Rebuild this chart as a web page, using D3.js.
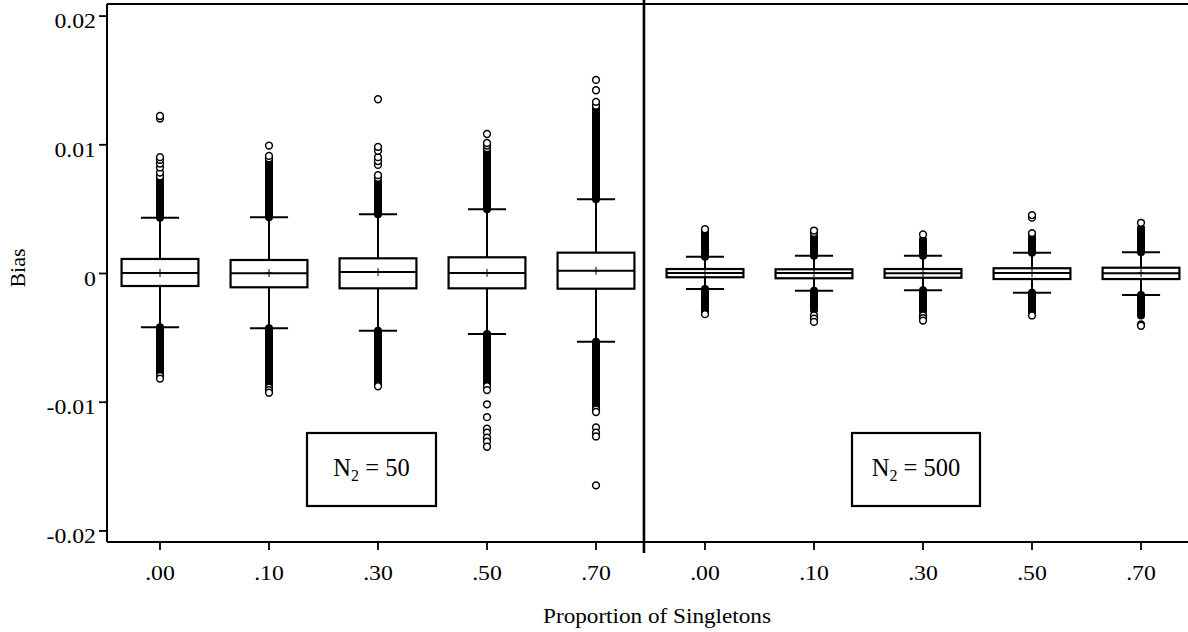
<!DOCTYPE html>
<html><head><meta charset="utf-8">
<script src="https://cdn.jsdelivr.net/npm/d3@7"></script>
<style>
body{margin:0;background:#fff}
svg{display:block}
text{font-family:"Liberation Serif","Times New Roman",serif;fill:#000}
</style>
</head><body>
<svg id="chart" width="1188" height="632"></svg>
<script>
// ---------- data ----------
const categories = [".00", ".10", ".30", ".50", ".70"];
const panelN2 = [50, 500];
const yTicks = [-0.02, -0.01, 0, 0.01, 0.02];
const yTickLabels = ["-0.02", "-0.01", "0", "0.01", "0.02"];
const xTitle = "Proportion of Singletons";
const yTitle = "Bias";

// per box: N2=50 (.00 .10 .30 .50 .70), then N2=500 (.00 .10 .30 .50 .70)
const q3     = [0.00109, 0.00101, 0.00114, 0.00122, 0.00158, 0.00031, 0.00029, 0.00031, 0.00037, 0.00041];
const q1     = [-0.00101, -0.00111, -0.00119, -0.00119, -0.00122, -0.00033, -0.00041, -0.00037, -0.00047, -0.00047];
const median = [0, -0.00002, 0.00008, 0, 0.00018, 0, 0, -0.00002, 0, -0.00002];
const mean   = [0, 0, 0.00006, 0.00001, 0.00018, 0, 0, 0, 0, 0];
const whiskerHigh = [0.0043, 0.00433, 0.00456, 0.00495, 0.00573, 0.00127, 0.00134, 0.00134, 0.00158, 0.00161];
const whiskerLow  = [-0.00422, -0.0043, -0.00448, -0.00474, -0.00534, -0.00124, -0.00138, -0.00134, -0.00153, -0.00171];
// runs of outliers so dense that their circles merge into a solid column
const denseHigh = [[0.0043, 0.0073], [0.00433, 0.0088], [0.00456, 0.0071], [0.00495, 0.0095], [0.00573, 0.0128],
                   [0.00127, 0.0033], [0.00134, 0.0029], [0.00134, 0.0026], [0.00158, 0.0028], [0.00161, 0.0035]];
const denseLow  = [[-0.0079, -0.00422], [-0.0088, -0.0043], [-0.0085, -0.00448], [-0.0086, -0.00474], [-0.0104, -0.00534],
                   [-0.0031, -0.00124], [-0.0029, -0.00138], [-0.0030, -0.00134], [-0.0032, -0.00153], [-0.0033, -0.00171]];
// individually visible outliers
const outliersHigh = [
  [0.0075, 0.0078, 0.0082, 0.0085, 0.0088, 0.0090, 0.0120, 0.0122],
  [0.0089, 0.0091, 0.0099],
  [0.0074, 0.0076, 0.0084, 0.0087, 0.0090, 0.0095, 0.0098, 0.0135],
  [0.0097, 0.0099, 0.0101, 0.0108],
  [0.0130, 0.0133, 0.0142, 0.0150],
  [0.0034],
  [0.0031, 0.0033],
  [0.0030],
  [0.0031, 0.0043, 0.0045],
  [0.0039]
];
const outliersLow = [
  [-0.0080, -0.0082],
  [-0.0089, -0.0091, -0.0093],
  [-0.0087, -0.0088],
  [-0.0088, -0.0091, -0.0102, -0.0112, -0.0121, -0.0124, -0.0128, -0.0131, -0.0135],
  [-0.0106, -0.0108, -0.0120, -0.0124, -0.0127, -0.0165],
  [-0.0032],
  [-0.0033, -0.00355, -0.0038],
  [-0.0033, -0.0035, -0.0037],
  [-0.0033],
  [-0.0040, -0.0041]
];

// ---------- layout ----------
const W = 1188, H = 632;
const plotLeft = 107, plotTop = 4, plotBottom = 542;
const SX = 1.16; // horizontal stretch of the original text

const keys = [];
panelN2.forEach(n => categories.forEach(c => keys.push(n + "|" + c)));
const boxes = keys.map((k, i) => ({
  key: k, label: k.split("|")[1],
  q1: q1[i], q3: q3[i], median: median[i], mean: mean[i],
  lo: whiskerLow[i], hi: whiskerHigh[i],
  dHi: denseHigh[i], dLo: denseLow[i],
  out: outliersHigh[i].concat(outliersLow[i])
}));

const x = d3.scaleBand().domain(keys).range([105.5, 1195.5]).paddingInner(0).paddingOuter(0);
const y = d3.scaleLinear().domain([-0.0209, 0.0209]).range([plotBottom, plotTop]);
const step = x.step();
const cx = k => x(k) + x.bandwidth() / 2;
const boxW = step * 0.705;
const capW = step * 0.35;

const svg = d3.select("#chart");
svg.append("rect").attr("width", W).attr("height", H).attr("fill", "#fff");

// frame lines
svg.append("line").attr("x1", plotLeft).attr("x2", W).attr("y1", plotTop).attr("y2", plotTop)
  .attr("stroke", "#000").attr("stroke-width", 2);
svg.append("line").attr("x1", plotLeft).attr("x2", W).attr("y1", plotBottom).attr("y2", plotBottom)
  .attr("stroke", "#000").attr("stroke-width", 2);

// y axis
const yAxis = svg.append("g").attr("transform", `translate(${plotLeft},0)`)
  .call(d3.axisLeft(y).tickValues(yTicks).tickSize(8).tickSizeOuter(0)
        .tickFormat((d, i) => yTickLabels[i]));
yAxis.select(".domain").attr("stroke-width", 2).attr("d", `M0,${plotTop}V${plotBottom}`);
yAxis.selectAll(".tick line").attr("stroke-width", 1.8);
yAxis.selectAll(".tick text").attr("x", null).attr("dy", null)
  .attr("font-family", '"Liberation Serif","Times New Roman",serif')
  .attr("font-size", 20.5).attr("text-anchor", "end")
  .attr("transform", `translate(-11,12) scale(${SX},1)`);

// x axis
const xAxis = svg.append("g").attr("transform", `translate(0,${plotBottom})`)
  .call(d3.axisBottom(x).tickSize(8).tickSizeOuter(0).tickFormat(k => k.split("|")[1]));
xAxis.select(".domain").remove();
xAxis.selectAll(".tick line").attr("stroke-width", 1.8);
xAxis.selectAll(".tick text").attr("y", null).attr("dy", null)
  .attr("font-family", '"Liberation Serif","Times New Roman",serif')
  .attr("font-size", 20.5).attr("text-anchor", "middle")
  .attr("transform", `translate(0,38) scale(${SX},1)`);

// panel divider
const divX = cx(keys[4]) + step * 0.44;
svg.append("line").attr("x1", divX).attr("x2", divX).attr("y1", 0).attr("y2", plotBottom + 11)
  .attr("stroke", "#000").attr("stroke-width", 2.6);

// titles
svg.append("text").attr("font-size", 20).attr("text-anchor", "middle")
  .attr("transform", `translate(657,623) scale(${SX},1)`).text(xTitle);
svg.append("text").attr("font-size", 22).attr("text-anchor", "middle")
  .attr("transform", "translate(25,268) rotate(-90)").text(yTitle);

// boxes
const g = svg.append("g").attr("stroke", "#000").attr("fill", "none");
const b = g.selectAll("g.box").data(boxes).join("g").attr("class", "box");

// whiskers
b.append("line").attr("x1", d => cx(d.key)).attr("x2", d => cx(d.key))
  .attr("y1", d => y(d.q3)).attr("y2", d => y(d.hi)).attr("stroke-width", 2);
b.append("line").attr("x1", d => cx(d.key)).attr("x2", d => cx(d.key))
  .attr("y1", d => y(d.q1)).attr("y2", d => y(d.lo)).attr("stroke-width", 2);

// dense outlier runs
b.append("line").attr("x1", d => cx(d.key)).attr("x2", d => cx(d.key))
  .attr("y1", d => y(d.dHi[0])).attr("y2", d => y(d.dHi[1]))
  .attr("stroke-width", 8).attr("stroke-linecap", "round");
b.append("line").attr("x1", d => cx(d.key)).attr("x2", d => cx(d.key))
  .attr("y1", d => y(d.dLo[0])).attr("y2", d => y(d.dLo[1]))
  .attr("stroke-width", 8).attr("stroke-linecap", "round");

// individual outliers
b.selectAll("circle").data(d => d.out.map(v => ({k: d.key, v}))).join("circle")
  .attr("cx", d => cx(d.k)).attr("cy", d => y(d.v)).attr("r", 3.4)
  .attr("fill", "#fff").attr("stroke-width", 1.5);

// caps
b.append("line").attr("x1", d => cx(d.key) - capW / 2).attr("x2", d => cx(d.key) + capW / 2)
  .attr("y1", d => y(d.hi)).attr("y2", d => y(d.hi)).attr("stroke-width", 2);
b.append("line").attr("x1", d => cx(d.key) - capW / 2).attr("x2", d => cx(d.key) + capW / 2)
  .attr("y1", d => y(d.lo)).attr("y2", d => y(d.lo)).attr("stroke-width", 2);

// box
b.append("rect").attr("x", d => cx(d.key) - boxW / 2).attr("width", boxW)
  .attr("y", d => y(d.q3)).attr("height", d => y(d.q1) - y(d.q3))
  .attr("fill", "#fff").attr("stroke-width", 2.2);
// median
b.append("line").attr("x1", d => cx(d.key) - boxW / 2).attr("x2", d => cx(d.key) + boxW / 2)
  .attr("y1", d => y(d.median)).attr("y2", d => y(d.median)).attr("stroke-width", 2);
// mean marker (+)
b.append("path").attr("stroke-width", 1)
  .attr("d", d => `M${cx(d.key) - 4},${y(d.mean)}H${cx(d.key) + 4}M${cx(d.key)},${y(d.mean) - 4}V${y(d.mean) + 4}`);

// legend boxes
const legends = [
  {n: panelN2[0], x: 307, w: 129},
  {n: panelN2[1], x: 852, w: 128}
];
const lg = svg.selectAll("g.legend").data(legends).join("g").attr("class", "legend");
lg.append("rect").attr("x", d => d.x).attr("y", 433).attr("width", d => d.w).attr("height", 73)
  .attr("fill", "#fff").attr("stroke", "#000").attr("stroke-width", 2.2);
const lt = lg.append("text").attr("x", d => d.x + d.w / 2).attr("y", 476)
  .attr("text-anchor", "middle").attr("font-size", 24.5);
lt.append("tspan").text("N");
lt.append("tspan").attr("font-size", 16).attr("dy", 5).text("2");
lt.append("tspan").attr("dy", -5).text(d => " = " + d.n);
</script>
</body></html>
